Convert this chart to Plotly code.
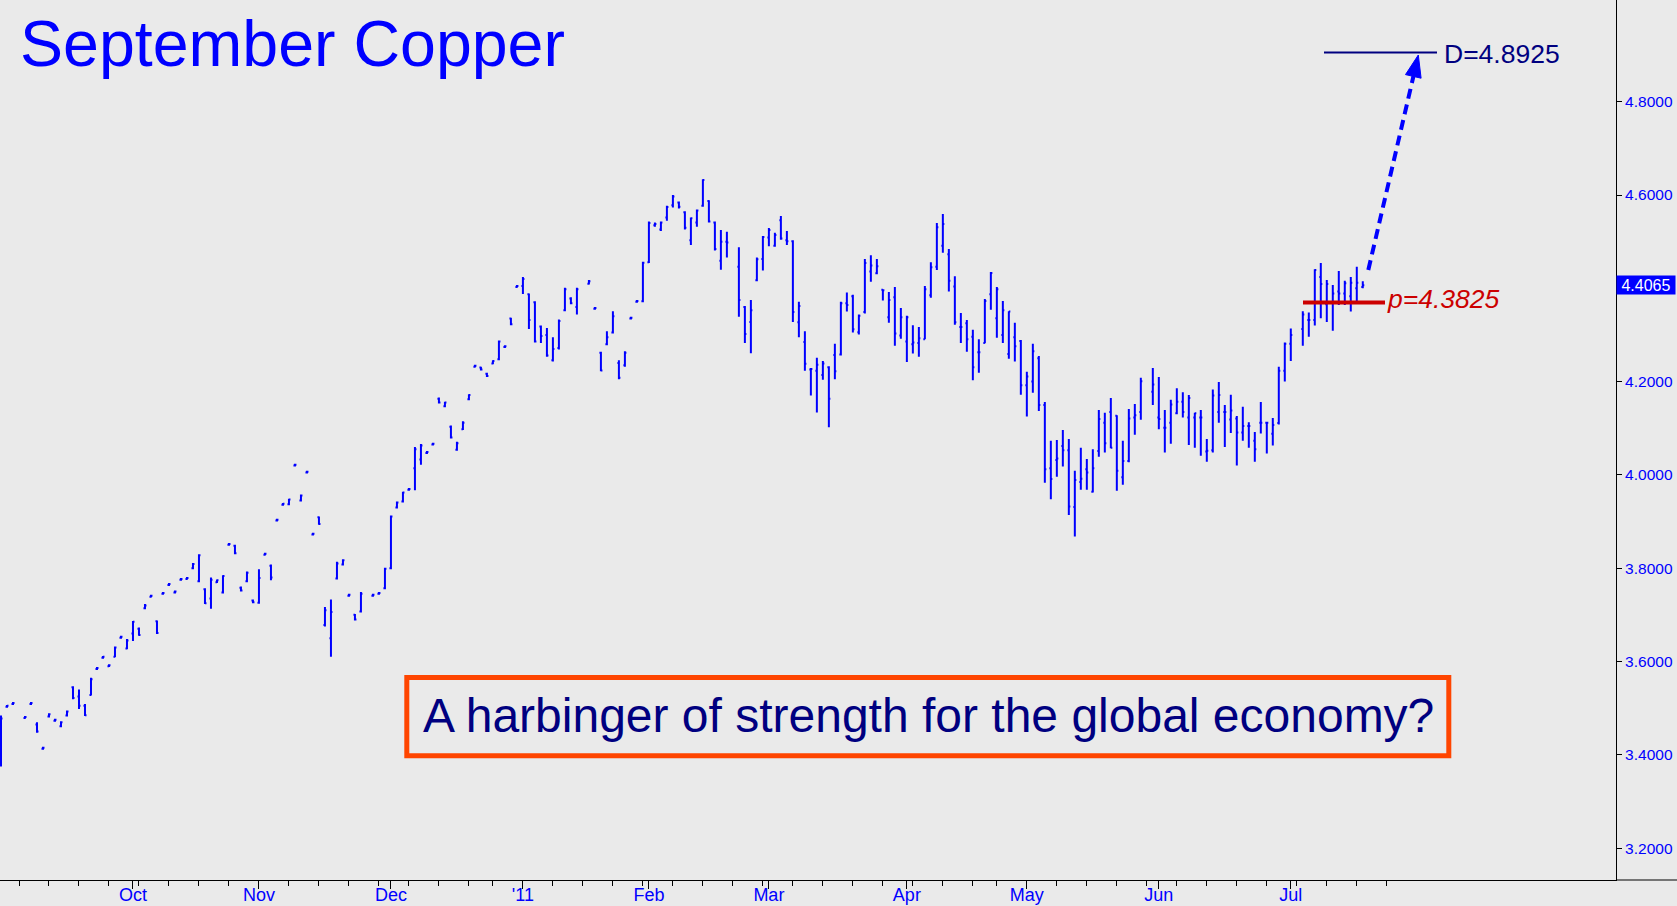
import plotly.graph_objects as go
import pandas as pd

# ---------------- data ----------------
# trading-day slots: weekdays, the chart's calendar skips 24 Dec 2010 and Good Friday 2011
skipped_days = ["2010-12-24", "2011-04-22"]
dates = [d for d in pd.bdate_range("2010-09-01", "2011-07-19")
         if d.strftime("%Y-%m-%d") not in skipped_days]

open_ = [
    3.400, 3.503, 3.509, None, 3.479, 3.509, 3.465, 3.413, 3.482, 3.473,
    3.461, 3.484, 3.545, 3.525, 3.505, 3.528, 3.584, 3.608, 3.590, 3.610,
    3.651, 3.628, 3.660, 3.670, 3.714, 3.739, 3.686, 3.745, 3.764, 3.748,
    3.775, 3.777, 3.800, 3.772, 3.755, 3.735, 3.770, 3.748, 3.850, 3.848,
    3.758, 3.772, 3.731, 3.726, 3.829, 3.805, 3.902, 3.936, 3.937, 4.020,
    3.945, 4.005, 3.872, 3.909, 3.678, 3.650, 3.778, 3.808, 3.741, 3.700,
    3.707, None, 3.741, 3.745, 3.757, 3.800, 3.930, 3.943, 3.968, 4.014,
    4.033, 4.047, 4.065, 4.163, 4.147, 4.103, 4.054, 4.098, 4.162, 4.232,
    4.230, 4.217, 4.239, 4.248, 4.274, 4.335, 4.403, 4.405, 4.387, 4.370,
    4.318, 4.300, 4.246, 4.272, 4.353, 4.378, 4.360, None, 4.410, 4.356,
    4.262, 4.280, 4.305, 4.240, 4.235, 4.335, 4.371, 4.372, 4.456, 4.535,
    4.526, 4.552, 4.578, 4.584, 4.563, 4.503, 4.541, 4.577, 4.587, 4.541,
    4.459, 4.500, None, 4.446, 4.360, 4.328, 4.417, 4.463, 4.509, 4.491,
    4.546, 4.503, 4.501, 4.327, 4.285, 4.226, 4.223, 4.214, 4.231, 4.257,
    4.258, 4.368, 4.383, 4.306, 4.349, 4.436, 4.432, 4.397, 4.338, 4.381,
    4.299, 4.286, 4.280, 4.283, 4.291, 4.385, 4.446, 4.491, 4.473, 4.404,
    4.317, 4.325, 4.296, 4.263, 4.283, 4.387, 4.336, 4.300, 4.259, 4.295,
    4.287, 4.192, 4.200, 4.250, 4.150, 4.014, 4.032, 4.062, 4.053, 3.931,
    3.985, 4.012, 3.964, 4.051, 4.112, 4.135, 4.127, 3.995, 4.030, 4.123,
    4.135, None, 4.178, 4.123, 4.101, 4.112, 4.132, 4.157, 4.123, 4.123,
    4.123, 4.050, 4.053, 4.135, 4.135, 4.119, 4.121, 4.091, 4.105, 4.073,
    4.112, 4.112, 4.088, 4.111, 4.223, 4.281, None, 4.313, 4.332, 4.332,
    4.424, 4.366, 4.369, 4.393, 4.389, 4.383, 4.400, 4.403,
]
high = [
    3.484, 3.507, 3.513, None, 3.483, 3.513, 3.470, 3.417, 3.489, 3.477,
    3.472, 3.495, 3.547, 3.540, 3.509, 3.565, 3.588, 3.612, 3.594, 3.632,
    3.655, 3.648, 3.687, 3.673, 3.723, 3.743, 3.688, 3.749, 3.768, 3.752,
    3.779, 3.781, 3.811, 3.830, 3.757, 3.780, 3.776, 3.785, 3.854, 3.850,
    3.761, 3.793, 3.733, 3.798, 3.833, 3.808, 3.906, 3.940, 3.949, 4.024,
    3.958, 4.009, 3.876, 3.911, 3.717, 3.733, 3.814, 3.819, 3.745, 3.702,
    3.749, None, 3.745, 3.749, 3.801, 3.913, 3.943, 3.964, 3.972, 4.060,
    4.066, 4.051, 4.069, 4.166, 4.157, 4.106, 4.071, 4.115, 4.173, 4.236,
    4.232, 4.219, 4.246, 4.288, 4.278, 4.337, 4.407, 4.424, 4.389, 4.372,
    4.320, 4.315, 4.295, 4.333, 4.401, 4.381, 4.401, None, 4.418, 4.360,
    4.264, 4.308, 4.351, 4.246, 4.265, 4.339, 4.375, 4.457, 4.543, 4.541,
    4.543, 4.577, 4.600, 4.586, 4.565, 4.552, 4.569, 4.634, 4.589, 4.543,
    4.525, 4.521, None, 4.488, 4.362, 4.375, 4.466, 4.512, 4.529, 4.519,
    4.555, 4.523, 4.503, 4.371, 4.308, 4.229, 4.251, 4.244, 4.233, 4.281,
    4.371, 4.391, 4.386, 4.344, 4.463, 4.471, 4.463, 4.398, 4.392, 4.403,
    4.358, 4.341, 4.321, 4.317, 4.405, 4.456, 4.540, 4.559, 4.484, 4.426,
    4.347, 4.332, 4.311, 4.291, 4.377, 4.435, 4.403, 4.373, 4.351, 4.326,
    4.289, 4.221, 4.281, 4.255, 4.156, 4.073, 4.075, 4.096, 4.077, 4.009,
    4.058, 4.034, 4.055, 4.139, 4.133, 4.165, 4.128, 4.073, 4.141, 4.152,
    4.208, None, 4.229, 4.210, 4.139, 4.161, 4.186, 4.177, 4.171, 4.133,
    4.139, 4.077, 4.183, 4.199, 4.150, 4.172, 4.126, 4.146, 4.113, 4.092,
    4.156, 4.114, 4.122, 4.232, 4.284, 4.314, None, 4.351, 4.348, 4.441,
    4.454, 4.418, 4.407, 4.437, 4.416, 4.424, 4.446, 4.415,
]
low = [
    3.375, 3.501, 3.507, None, 3.477, 3.507, 3.447, 3.411, 3.480, 3.471,
    3.459, 3.482, 3.519, 3.498, 3.483, 3.527, 3.582, 3.606, 3.588, 3.609,
    3.649, 3.626, 3.644, 3.655, 3.712, 3.737, 3.659, 3.743, 3.762, 3.746,
    3.773, 3.775, 3.798, 3.770, 3.723, 3.713, 3.768, 3.746, 3.848, 3.830,
    3.750, 3.770, 3.725, 3.724, 3.827, 3.774, 3.900, 3.934, 3.935, 4.018,
    3.943, 4.003, 3.870, 3.893, 3.675, 3.610, 3.776, 3.806, 3.739, 3.688,
    3.705, None, 3.739, 3.743, 3.755, 3.798, 3.928, 3.941, 3.966, 3.967,
    4.022, 4.045, 4.063, 4.153, 4.145, 4.078, 4.052, 4.096, 4.160, 4.230,
    4.224, 4.210, 4.237, 4.246, 4.272, 4.321, 4.401, 4.388, 4.313, 4.284,
    4.283, 4.253, 4.243, 4.269, 4.351, 4.366, 4.344, None, 4.408, 4.354,
    4.222, 4.278, 4.303, 4.205, 4.232, 4.333, 4.369, 4.370, 4.454, 4.532,
    4.523, 4.545, 4.573, 4.571, 4.526, 4.493, 4.532, 4.575, 4.541, 4.481,
    4.440, 4.466, None, 4.339, 4.283, 4.261, 4.415, 4.438, 4.490, 4.489,
    4.504, 4.493, 4.328, 4.295, 4.223, 4.170, 4.134, 4.204, 4.102, 4.205,
    4.256, 4.350, 4.305, 4.301, 4.346, 4.414, 4.430, 4.374, 4.326, 4.277,
    4.292, 4.242, 4.260, 4.253, 4.291, 4.380, 4.439, 4.476, 4.393, 4.322,
    4.283, 4.264, 4.203, 4.219, 4.282, 4.354, 4.294, 4.283, 4.249, 4.243,
    4.172, 4.125, 4.176, 4.137, 3.983, 3.948, 3.996, 4.018, 3.914, 3.868,
    3.968, 3.968, 3.962, 4.039, 4.048, 4.057, 3.966, 3.979, 4.027, 4.086,
    4.118, None, 4.150, 4.098, 4.048, 4.067, 4.130, 4.123, 4.064, 4.058,
    4.041, 4.028, 4.048, 4.112, 4.060, 4.090, 4.020, 4.073, 4.058, 4.028,
    4.089, 4.046, 4.063, 4.108, 4.200, 4.244, None, 4.277, 4.296, 4.320,
    4.336, 4.328, 4.309, 4.364, 4.364, 4.350, 4.372, 4.400,
]
close = [
    3.478, 3.505, 3.511, None, 3.481, 3.511, 3.450, 3.415, 3.487, 3.475,
    3.470, 3.493, 3.522, 3.505, 3.485, 3.562, 3.586, 3.610, 3.592, 3.630,
    3.653, 3.645, 3.685, 3.657, 3.720, 3.741, 3.661, 3.747, 3.766, 3.750,
    3.777, 3.779, 3.809, 3.828, 3.725, 3.775, 3.774, 3.783, 3.852, 3.832,
    3.752, 3.790, 3.727, 3.779, 3.831, 3.780, 3.904, 3.938, 3.947, 4.022,
    3.956, 4.007, 3.874, 3.895, 3.710, 3.706, 3.810, 3.817, 3.743, 3.690,
    3.745, None, 3.743, 3.747, 3.799, 3.911, 3.941, 3.962, 3.970, 4.055,
    4.063, 4.049, 4.067, 4.155, 4.155, 4.080, 4.068, 4.112, 4.171, 4.234,
    4.226, 4.212, 4.244, 4.286, 4.276, 4.323, 4.405, 4.420, 4.332, 4.286,
    4.298, 4.256, 4.270, 4.330, 4.398, 4.368, 4.398, None, 4.415, 4.358,
    4.224, 4.295, 4.340, 4.208, 4.262, 4.337, 4.373, 4.455, 4.540, 4.538,
    4.541, 4.574, 4.597, 4.575, 4.530, 4.550, 4.567, 4.632, 4.543, 4.484,
    4.500, 4.498, None, 4.375, 4.302, 4.353, 4.462, 4.510, 4.525, 4.514,
    4.507, 4.501, 4.349, 4.362, 4.238, 4.227, 4.236, 4.239, 4.163, 4.222,
    4.368, 4.364, 4.312, 4.341, 4.454, 4.449, 4.447, 4.396, 4.375, 4.303,
    4.338, 4.338, 4.284, 4.293, 4.398, 4.445, 4.531, 4.538, 4.416, 4.327,
    4.317, 4.291, 4.231, 4.263, 4.373, 4.433, 4.398, 4.353, 4.350, 4.276,
    4.192, 4.211, 4.265, 4.150, 4.012, 3.991, 4.035, 4.053, 3.932, 3.989,
    3.992, 4.005, 4.014, 4.120, 4.068, 4.058, 4.009, 4.030, 4.121, 4.128,
    4.201, None, 4.194, 4.120, 4.101, 4.151, 4.157, 4.135, 4.165, 4.132,
    4.123, 4.052, 4.170, 4.171, 4.135, 4.138, 4.091, 4.105, 4.105, 4.055,
    4.112, 4.112, 4.107, 4.223, 4.281, 4.300, None, 4.344, 4.332, 4.439,
    4.409, 4.409, 4.389, 4.389, 4.411, 4.412, 4.412, 4.4065,
]

month_ticks = ["2010-10-01", "2010-11-01", "2010-12-01", "2011-01-03", "2011-02-01",
               "2011-03-01", "2011-04-01", "2011-05-02", "2011-06-01", "2011-07-01"]
month_labels = ["Oct", "Nov", "Dec", "'11", "Feb", "Mar", "Apr", "May", "Jun", "Jul"]
week_ticks = [d.strftime("%Y-%m-%d") for d in pd.date_range("2010-09-06", "2011-07-25", freq="W-MON")]
price_ticks = [3.2, 3.4, 3.6, 3.8, 4.0, 4.2, 4.4, 4.6, 4.8]
# the 4.4000 label sits under the last-price box in the original
price_labels = ["3.2000", "3.4000", "3.6000", "3.8000", "4.0000", "4.2000", "", "4.6000", "4.8000"]

last_price = 4.4065
pivot_price = 4.3825
target_price = 4.8925

# ---------------- layout helpers ----------------
W, H = 1677, 906
PW, PH = 1616, 880          # plot area size (left/top at 0,0)
def px(x):
    return x / PW
def py(y):
    return 1 - y / PH

BG = "#EAEAEA"
BLUE = "#0000FF"
NAVY = "#000080"
RED = "#CC0000"
ORANGE = "#FF4500"
FONT = "Liberation Sans, Arial, sans-serif"
NARROW = "Liberation Sans Narrow, Arial Narrow, Liberation Sans, Arial, sans-serif"

fig = go.Figure(go.Ohlc(
    x=dates, open=open_, high=high, low=low, close=close,
    increasing=dict(line=dict(color=BLUE, width=2)),
    decreasing=dict(line=dict(color=BLUE, width=2)),
    tickwidth=0.25, hoverinfo="skip",
))

fig.update_layout(
    width=W, height=H,
    margin=dict(l=0, r=W - PW, t=0, b=H - PH, autoexpand=False),
    paper_bgcolor=BG, plot_bgcolor=BG,
    showlegend=False,
    xaxis=dict(
        type="date", automargin=False,
        range=["2010-08-31 20:00", "2011-09-15 05:00"],
        rangebreaks=[dict(bounds=["sat", "mon"]), dict(values=skipped_days)],
        rangeslider=dict(visible=False),
        tickmode="array", tickvals=month_ticks, ticktext=month_labels,
        ticks="outside", ticklen=8, tickcolor="black", tickwidth=1,
        ticklabelstandoff=-10,
        tickfont=dict(family=NARROW, size=18, color=BLUE),
        minor=dict(tickmode="array", tickvals=week_ticks, ticks="outside",
                   ticklen=5, tickcolor="black", tickwidth=1, showgrid=False),
        showline=True, linecolor="black", linewidth=1,
        showgrid=False, zeroline=False, fixedrange=True,
    ),
    yaxis=dict(
        side="right", automargin=False,
        range=[3.1316, 5.018],
        tickmode="array", tickvals=price_ticks, ticktext=price_labels,
        ticks="outside", ticklen=5, tickcolor="black", tickwidth=1,
        tickfont=dict(family=FONT, size=15.5, color=BLUE),
        showline=True, linecolor="black", linewidth=1,
        showgrid=False, zeroline=False, fixedrange=True,
    ),
)

shapes = [
    # bottom axis line continues under the price scale
    dict(type="line", xref="paper", yref="paper", x0=1, x1=W / PW, y0=0, y1=0,
         line=dict(color="black", width=1)),
    # target line D
    dict(type="line", xref="paper", yref="paper", x0=px(1324), x1=px(1437),
         y0=py(52.5), y1=py(52.5), line=dict(color=NAVY, width=2)),
    # pivot line p
    dict(type="line", xref="paper", yref="paper", x0=px(1303), x1=px(1385),
         y0=py(302.5), y1=py(302.5), line=dict(color=RED, width=4)),
    # dashed arrow shaft
    dict(type="line", xref="paper", yref="paper", x0=px(1368.3), y0=py(270),
         x1=px(1413.5), y1=py(76), line=dict(color=BLUE, width=4, dash="10px,6px")),
    # arrow head
    dict(type="path", xref="paper", yref="paper",
         path=f"M {px(1418.3)} {py(55)} L {px(1421.1)} {py(78.2)} L {px(1405.5)} {py(74.6)} Z",
         fillcolor=BLUE, line=dict(color=BLUE, width=1)),
    # caption box
    dict(type="rect", xref="paper", yref="paper", x0=px(406.8), x1=px(1448.8),
         y0=py(755.8), y1=py(677.4), line=dict(color=ORANGE, width=5)),
]

annotations = [
    dict(text="September Copper", xref="paper", yref="paper", x=px(18), y=py(43.5),
         xanchor="left", yanchor="middle", showarrow=False,
         font=dict(family=FONT, size=64.5, color=BLUE)),
    dict(text=f"D={target_price:.4f}", xref="paper", yref="paper", x=px(1442), y=py(54.2),
         xanchor="left", yanchor="middle", showarrow=False,
         font=dict(family=FONT, size=26.5, color=NAVY)),
    dict(text=f"<i>p={pivot_price:.4f}</i>", xref="paper", yref="paper", x=px(1385), y=py(298.8),
         xanchor="left", yanchor="middle", showarrow=False,
         font=dict(family=FONT, size=26.5, color=RED)),
    dict(text="A harbinger of strength for the global economy?", xref="paper", yref="paper",
         x=px(928.5), y=py(715.5), xanchor="center", yanchor="middle", showarrow=False,
         font=dict(family=FONT, size=48, color=NAVY)),
    dict(text=f"{last_price:.4f}", xref="paper", yref="y", x=1, y=last_price,
         xanchor="left", yanchor="middle", showarrow=False,
         width=58, height=18, borderpad=0, bgcolor=BLUE,
         font=dict(family=FONT, size=16, color="white")),
]

fig.update_layout(shapes=shapes, annotations=annotations)

fig.write_html("out.html", config={"displayModeBar": False},
               post_script="document.body.style.margin='0';document.body.style.overflow='hidden';")
